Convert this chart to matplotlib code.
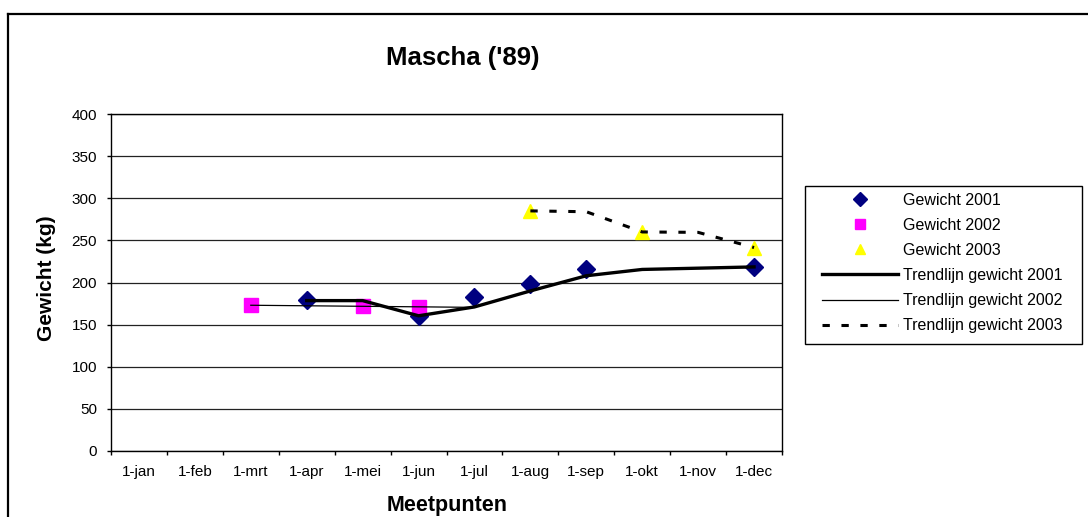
import matplotlib.pyplot as plt
from matplotlib.lines import Line2D
from matplotlib.patches import Rectangle

plt.rcParams['font.family'] = ['Liberation Sans', 'DejaVu Sans']

months = ['1-jan', '1-feb', '1-mrt', '1-apr', '1-mei', '1-jun',
          '1-jul', '1-aug', '1-sep', '1-okt', '1-nov', '1-dec']

# gemeten gewichten
x2001 = ['1-apr', '1-jun', '1-jul', '1-aug', '1-sep', '1-dec']
w2001 = [179, 160, 183, 198, 216, 218]
x2002 = ['1-mrt', '1-mei', '1-jun']
w2002 = [173, 172.5, 171]
x2003 = ['1-aug', '1-okt', '1-dec']
w2003 = [285, 260, 241]

# trendlijnen
tx2001 = ['1-apr', '1-mei', '1-jun', '1-jul', '1-aug', '1-sep', '1-okt', '1-dec']
t2001 = [178.5, 178.5, 160.5, 171, 190, 208, 215.5, 218.5]
tx2002 = ['1-mrt', '1-jul']
t2002 = [173, 170.5]
tx2003 = ['1-aug', '1-sep', '1-okt', '1-nov', '1-dec']
t2003 = [285, 284, 260, 259.5, 241.5]

yticks = [0, 50, 100, 150, 200, 250, 300, 350, 400]


def pos(labels):
    return [months.index(m) for m in labels]


W, H = 1088, 517
fig = plt.figure(figsize=(W / 100, H / 100), dpi=100)
ax = fig.add_axes([111 / W, 66 / H, 671 / W, 337 / H])

# markers eerst, trendlijnen erover
ax.plot(pos(x2001), w2001, linestyle='none', marker='D', markersize=9.5,
        color='#000080', mec='#000080', label='Gewicht 2001', zorder=3)
ax.plot(pos(x2002), w2002, linestyle='none', marker='s', markersize=10,
        color='#FF00FF', mec='#FF00FF', label='Gewicht 2002', zorder=3)
ax.plot(pos(x2003), w2003, linestyle='none', marker='^', markersize=10,
        color='#FFFF00', mec='#FFFF00', label='Gewicht 2003', zorder=3)
ax.plot(pos(tx2001), t2001, color='black', lw=2.4,
        label='Trendlijn gewicht 2001', zorder=4, solid_joinstyle='round')
ax.plot(pos(tx2002), t2002, color='black', lw=0.9,
        label='Trendlijn gewicht 2002', zorder=4)
ax.plot(pos(tx2003), t2003, color='black', lw=2.2, linestyle=(0, (2.4, 3.8)),
        label='Trendlijn gewicht 2003', zorder=4)

ax.set_xlim(-0.5, len(months) - 0.5)
ax.set_ylim(0, 400)
ax.set_yticks(yticks)
ax.set_xticks([i - 0.5 for i in range(len(months) + 1)])
ax.set_xticklabels([])
ax.set_xticks(range(len(months)), minor=True)
ax.set_xticklabels(months, minor=True)
ax.tick_params(axis='x', which='major', direction='out', length=3, width=1)
ax.tick_params(axis='x', which='minor', length=0, pad=10, labelsize=11)
ax.tick_params(axis='y', direction='out', length=3, width=1, pad=7, labelsize=11)
ax.grid(axis='y', color='#222222', lw=0.9)
ax.set_axisbelow(True)
for s in ax.spines.values():
    s.set_color('black')
    s.set_linewidth(1)

fig.text(463 / W, 1 - 58 / H, "Mascha ('89)", fontsize=18.5, fontweight='bold',
         ha='center', va='center')
fig.text(46 / W, 1 - 278 / H, 'Gewicht (kg)', fontsize=15, fontweight='bold',
         rotation=90, ha='center', va='center')
fig.text(447 / W, 1 - 505 / H, 'Meetpunten', fontsize=15.5, fontweight='bold',
         ha='center', va='center')

# legenda met eigen kader
fig.patches.append(Rectangle((805 / W, 1 - 344 / H), 277 / W, 158 / H,
                             transform=fig.transFigure, fill=False,
                             edgecolor='black', lw=1))
ax.legend(loc='center left', bbox_to_anchor=(814 / W, 1 - 263 / H),
          bbox_transform=fig.transFigure, frameon=False, fontsize=11.5,
          borderpad=0, handlelength=4.75, handletextpad=0.3, labelspacing=0.63,
          markerscale=0.7)

# rand van het diagramgebied
fig.add_artist(Line2D([8 / W, 8 / W], [0, 1 - 14 / H], transform=fig.transFigure,
                      color='black', lw=1.6))
fig.add_artist(Line2D([8 / W, 1], [1 - 14 / H, 1 - 14 / H], transform=fig.transFigure,
                      color='black', lw=1.6))

fig.savefig('out.png', dpi=100)
